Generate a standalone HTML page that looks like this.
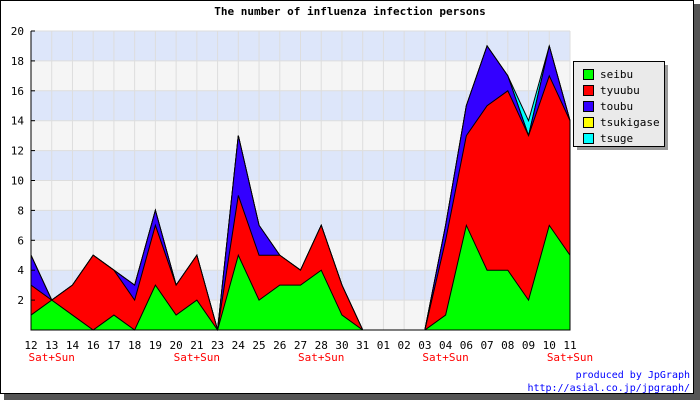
<!DOCTYPE html>
<html><head><meta charset="utf-8"><style>
body{margin:0;background:#fff}
svg text{font-family:"DejaVu Sans Mono","Liberation Mono",monospace}
</style></head><body>
<svg width="700" height="400" xmlns="http://www.w3.org/2000/svg" id="chart">
<rect x="0" y="0" width="700" height="400" fill="#fff"/>
<rect x="694" y="4" width="6" height="396" fill="#555"/>
<rect x="4" y="394" width="696" height="6" fill="#555"/>
<rect x="0.5" y="0.5" width="693" height="393" fill="#fff" stroke="#000"/>
<text x="350" y="15" text-anchor="middle" font-size="11" font-weight="bold">The number of influenza infection persons</text>
<g id="plot"></g>
<g>
<rect x="577" y="65" width="91" height="85" fill="#999"/>
<rect x="573.5" y="61.5" width="91" height="85" fill="#eaeaea" stroke="#000"/>
<g id="legend"></g>
</g>
<text x="690" y="378" text-anchor="end" font-size="10" fill="#00f">produced by JpGraph</text>
<text x="690" y="391" text-anchor="end" font-size="10" fill="#00f">http://asial.co.jp/jpgraph/</text>
</svg>
<script>
const categories=["12","13","14","16","17","18","19","20","21","23","24","25","26","27","28","30","31","01","02","03","04","06","07","08","09","10","11"];
const weekend=["13","21","28","04","11"];
const seibu=[1,2,1,0,1,0,3,1,2,0,5,2,3,3,4,1,0,0,0,0,1,7,4,4,2,7,5];
const tyuubu=[2,0,2,5,3,2,4,2,3,0,4,3,2,1,3,2,0,0,0,0,5,6,11,12,11,10,9];
const toubu=[2,0,0,0,0,1,1,0,0,0,4,2,0,0,0,0,0,0,0,0,1,2,4,1,0,2,0];
const tsukigase=[0,0,0,0,0,0,0,0,0,0,0,0,0,0,0,0,0,0,0,0,0,0,0,0,0,0,0];
const tsuge=[0,0,0,0,0,0,0,0,0,0,0,0,0,0,0,0,0,0,0,0,0,0,0,0,1,0,0];
const yTicks=[2,4,6,8,10,12,14,16,18,20];
const seriesNames=["seibu","tyuubu","toubu","tsukigase","tsuge"];
const seriesColors=["#00ff00","#ff0000","#3300ff","#ffff00","#00ffff"];
const X0=31,X1=570,Y0=330,Y1=31,YMAX=20;
const xs=i=>X0+(X1-X0)*i/(categories.length-1);
const ys=v=>Y0-(Y0-Y1)*v/YMAX;
const NS="http://www.w3.org/2000/svg";
const plot=document.getElementById('plot');
function mk(t,a,p){const e=document.createElementNS(NS,t);for(const k in a)e.setAttribute(k,a[k]);(p||plot).appendChild(e);return e;}
for(let v=0;v<YMAX;v+=2){const r=mk('rect',{x:X0,y:ys(v+2),width:X1-X0,height:ys(v)-ys(v+2),fill:(v/2)%2?'#dde6fa':'#f5f5f5'});

}
yTicks.forEach(v=>{const l=mk('line',{x1:X0,x2:X1,y1:ys(v),y2:ys(v),stroke:'#ddd'});

});
categories.forEach((c,i)=>{const l=mk('line',{x1:xs(i),x2:xs(i),y1:Y1,y2:Y0,stroke:'#ddd'});

});
const all=[seibu,tyuubu,toubu,tsukigase,tsuge];
const cum=[];let base=categories.map(()=>0);
all.forEach(s=>{base=base.map((b,i)=>b+s[i]);cum.push(base.slice());});
for(let k=all.length-1;k>=0;k--){
 let d='M'+xs(0)+','+ys(0);
 cum[k].forEach((v,i)=>{d+=' L'+xs(i)+','+ys(v);});
 d+=' L'+xs(categories.length-1)+','+ys(0)+' Z';
 const p=mk('path',{d:d,fill:seriesColors[k],stroke:'#000','stroke-width':1});
 
 
}
const ax=mk('path',{d:`M${X0},${Y1} L${X0},${Y0} L${X1},${Y0}`,fill:'none',stroke:'#000'});


yTicks.forEach(v=>{const t=mk('text',{x:X0-7,y:ys(v)+4,'text-anchor':'end','font-size':11});t.textContent=v;


const tk=mk('line',{x1:X0,x2:X0+4,y1:ys(v),y2:ys(v),stroke:'#000'});

});
categories.forEach((c,i)=>{const t=mk('text',{x:xs(i),y:349,'text-anchor':'middle','font-size':11});t.textContent=c;


if(weekend.includes(c)){const w=mk('text',{x:xs(i),y:361,'text-anchor':'middle','font-size':11,fill:'#f00'});w.textContent='Sat+Sun';

}});
const lg=document.getElementById('legend');
seriesNames.forEach((n,k)=>{const y=69+k*16;
const r=mk('rect',{x:583.5,y:y+0.5,width:10,height:10,fill:seriesColors[k],stroke:'#000'},lg);


const t=mk('text',{x:600,y:y+9,'font-size':11},lg);t.textContent=n;

});
</script>
</body></html>
